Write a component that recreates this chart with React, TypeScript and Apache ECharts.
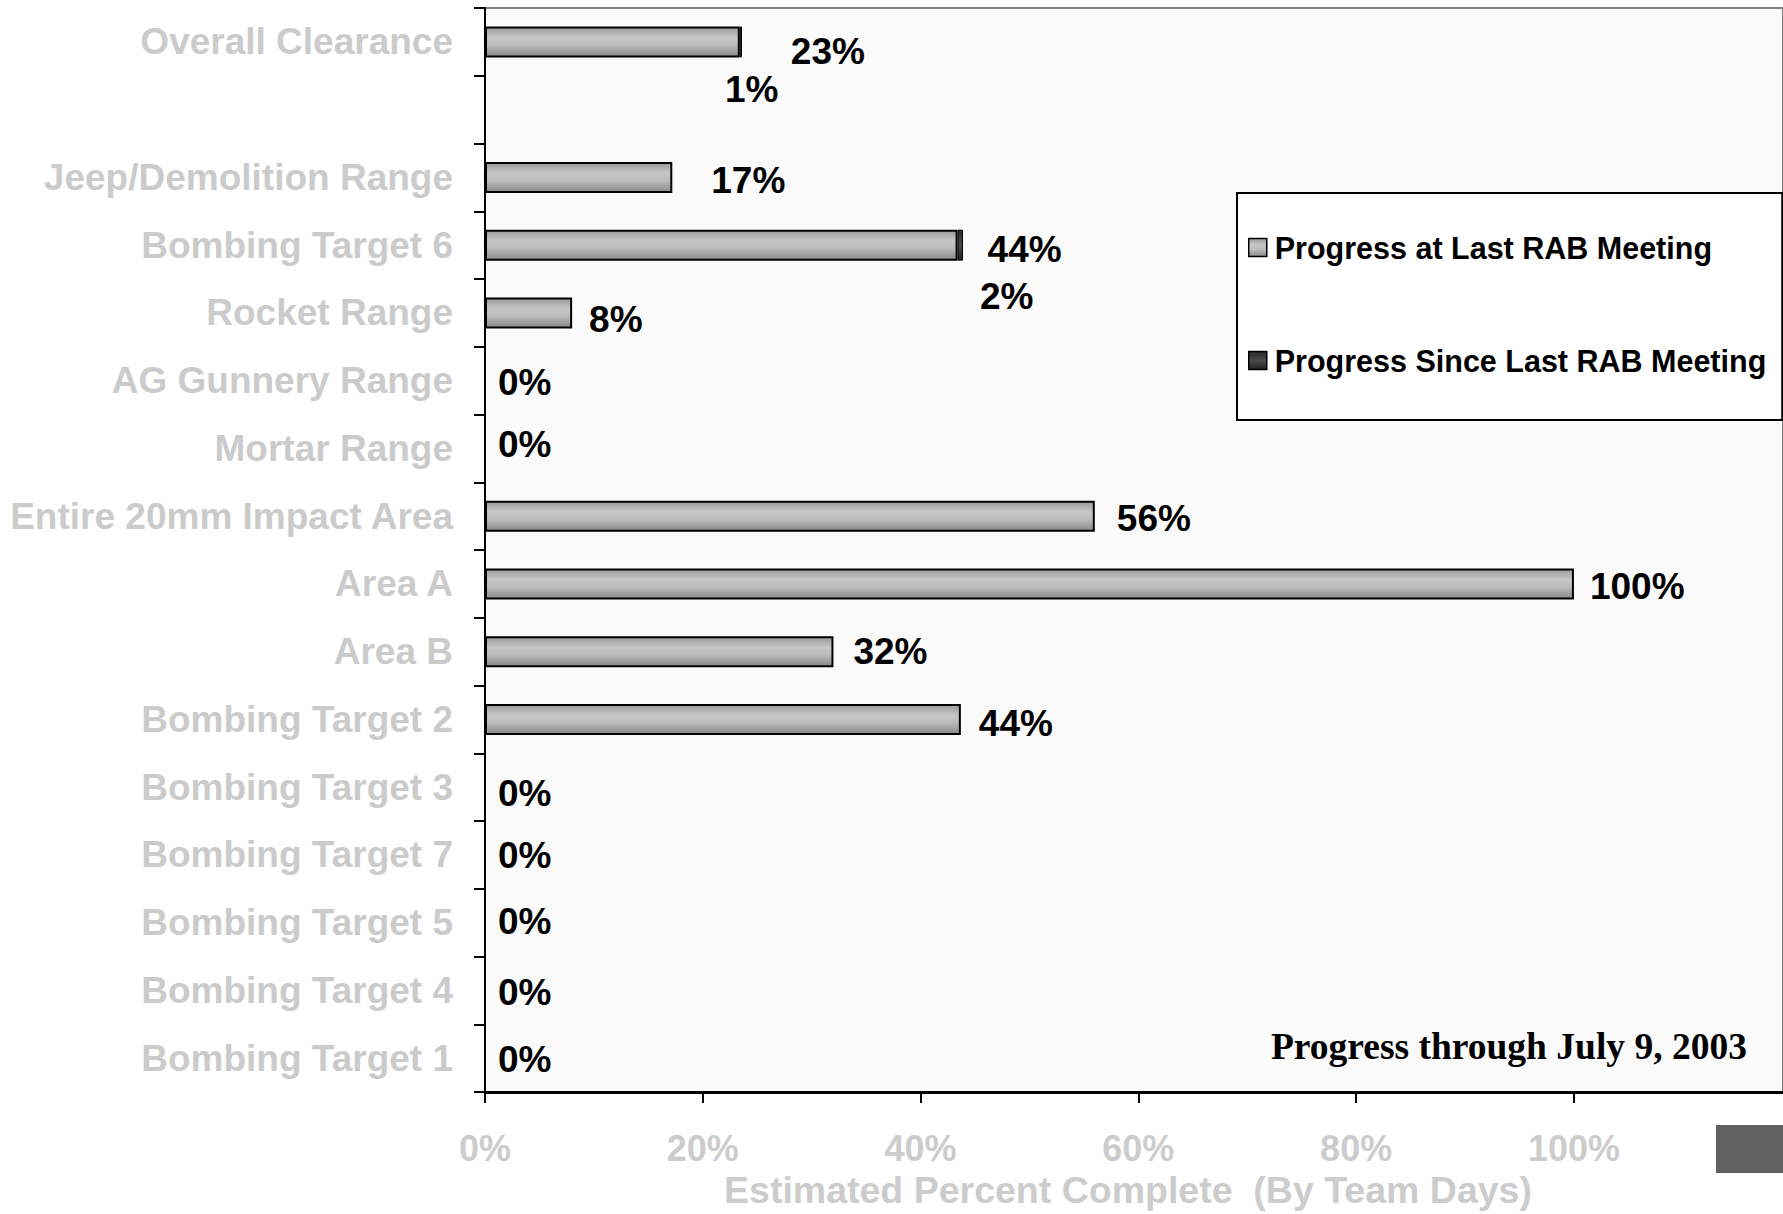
import React, { useEffect, useRef } from "react";
import * as echarts from "echarts";

const categories = [
  "Overall Clearance",
  "",
  "Jeep/Demolition Range",
  "Bombing Target 6",
  "Rocket Range",
  "AG Gunnery Range",
  "Mortar Range",
  "Entire 20mm Impact Area",
  "Area A",
  "Area B",
  "Bombing Target 2",
  "Bombing Target 3",
  "Bombing Target 7",
  "Bombing Target 5",
  "Bombing Target 4",
  "Bombing Target 1",
];
const progressAtLast: (number | null)[] = [23.4, null, 17.2, 43.4, 8, 0, 0, 56, 100, 32, 43.7, 0, 0, 0, 0, 0];
const progressSince: (number | null)[] = [0.2, null, 0, 0.5, 0, 0, 0, 0, 0, 0, 0, 0, 0, 0, 0, 0];
const lastLabels = ["23%", "", "17%", "44%", "8%", "0%", "0%", "56%", "100%", "32%", "44%", "0%", "0%", "0%", "0%", "0%"];
const sinceLabels = ["1%", "", "", "2%", "", "", "", "", "", "", "", "", "", "", "", ""];
const xTicks = [0, 20, 40, 60, 80, 100];
const seriesNames = ["Progress at Last RAB Meeting", "Progress Since Last RAB Meeting"];
const axisTitle = "Estimated Percent Complete  (By Team Days)";
const noteText = "Progress through July 9, 2003";

// label layout offsets (pixels)
const lastDx = [46, 0, 34, 25, 12, 8, 8, 17, 11, 15, 13, 8, 8, 8, 8, 8];
const lastDy = [10, 0, 3, 4, 7, 2, -4, 2, 3, 0, 4, 6, 1, -1, 2, 1];
const sinceDx = [-22, 0, 0, 12, 0, 0, 0, 0, 0, 0, 0, 0, 0, 0, 0, 0];
const sinceDy = [48, 0, 0, 51, 0, 0, 0, 0, 0, 0, 0, 0, 0, 0, 0, 0];

const SANS = '"Liberation Sans", Arial, sans-serif';

export default function App() {
  const ref = useRef<HTMLDivElement>(null);
  useEffect(() => {
    if (!ref.current) return;
    const chart = echarts.init(ref.current, null, { renderer: "svg" });
    const grayGrad = new echarts.graphic.LinearGradient(0, 0, 0, 1, [
      { offset: 0, color: "#9a9a9a" },
      { offset: 0.35, color: "#c6c6c6" },
      { offset: 0.6, color: "#bcbcbc" },
      { offset: 1, color: "#8a8a8a" },
    ]);
    const darkGrad = new echarts.graphic.LinearGradient(0, 0, 0, 1, [
      { offset: 0, color: "#2a2a2a" },
      { offset: 0.5, color: "#4a4a4a" },
      { offset: 1, color: "#222222" },
    ]);
    const labelStyle = {
      fontFamily: SANS,
      fontWeight: "bold" as const,
      fontSize: 37,
      color: "#000",
    };
    const mk = (vals: (number | null)[], texts: string[], dx: number[], dy: number[]) =>
      vals.map((v, i) => {
        if (v === null) return "-";
        return {
          value: v,
          itemStyle: v === 0 ? { borderWidth: 0 } : undefined,
          label: {
            show: texts[i] !== "",
            position: "right",
            formatter: texts[i],
            offset: [dx[i], dy[i]],
            ...labelStyle,
          },
        };
      });

    chart.setOption({
      animation: false,
      backgroundColor: "#ffffff",
      grid: {
        left: 485,
        right: -2,
        top: 8,
        bottom: 116,
        show: true,
        backgroundColor: "#fafafa",
        borderColor: "#808080",
        borderWidth: 2,
      },
      legend: {
        orient: "vertical",
        left: 1237,
        top: 193,
        itemWidth: 18,
        itemHeight: 18,
        itemGap: 82,
        padding: [39, 16, 44, 11],
        borderColor: "#000",
        borderWidth: 2,
        backgroundColor: "#ffffff",
        icon: "rect",
        itemStyle: { borderColor: "#000", borderWidth: 1.5 },
        textStyle: { fontFamily: SANS, fontWeight: "bold", fontSize: 30.5, color: "#000", padding: [0, 0, 0, 3] },
        data: seriesNames,
      },
      xAxis: {
        type: "value",
        min: 0,
        max: 119.2,
        interval: 20,
        splitLine: { show: false },
        axisLine: { show: true, lineStyle: { color: "#000", width: 3 } },
        axisTick: { show: true, length: 11, customValues: xTicks, lineStyle: { color: "#000", width: 2 } },
        axisLabel: {
          margin: 38,
          customValues: xTicks,
          fontFamily: SANS,
          fontWeight: "bold",
          fontSize: 36,
          color: "#cccccc",
          formatter: (v: number) => v + "%",
        },
        name: axisTitle,
        nameLocation: "middle",
        nameGap: 78,
        nameTextStyle: {
          fontFamily: SANS,
          fontWeight: "bold",
          fontSize: 37.5,
          color: "#cccccc",
          padding: [0, 12, 0, 0],
        },
      },
      yAxis: {
        type: "category",
        inverse: true,
        data: categories,
        axisLine: { show: true, lineStyle: { color: "#000", width: 2 } },
        axisTick: { show: true, length: 11, interval: 0, lineStyle: { color: "#000", width: 2 } },
        axisLabel: {
          interval: 0,
          margin: 32,
          padding: [5, 0, 0, 0],
          fontFamily: SANS,
          fontWeight: "bold",
          fontSize: 37,
          color: "#cbcbcb",
        },
      },
      series: [
        {
          name: seriesNames[0],
          type: "bar",
          stack: "total",
          barWidth: 31,
          itemStyle: { color: grayGrad, borderColor: "#000", borderWidth: 2 },
          data: mk(progressAtLast, lastLabels, lastDx, lastDy),
        },
        {
          name: seriesNames[1],
          type: "bar",
          stack: "total",
          barWidth: 31,
          itemStyle: { color: darkGrad, borderColor: "#000", borderWidth: 1 },
          data: mk(progressSince, sinceLabels, sinceDx, sinceDy),
        },
      ],
      graphic: [
        {
          type: "text",
          x: 1747,
          y: 1046,
          style: {
            text: noteText,
            fontFamily: '"Liberation Serif", "Times New Roman", serif',
            fontWeight: "bold",
            fontSize: 37.5,
            fill: "#000",
            align: "right",
            verticalAlign: "middle",
          },
        },
        {
          type: "rect",
          shape: { x: 1716, y: 1125, width: 67, height: 48 },
          style: { fill: "#606060" },
        },
      ],
    });
    return () => chart.dispose();
  }, []);
  return (
    <div
      ref={ref}
      style={{ position: "absolute", left: 0, top: 0, width: 1783, height: 1214, background: "#fff" }}
    />
  );
}
